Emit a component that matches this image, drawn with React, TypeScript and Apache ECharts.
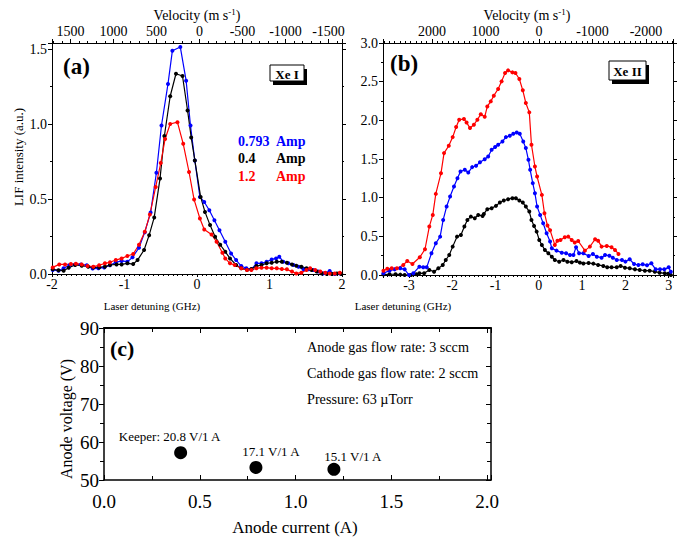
import React, { useEffect, useRef } from "react";
import * as echarts from "echarts";

// ---------- Panel (a): Xe I LIF profiles (detuning GHz, intensity a.u.) ----------
const xeI_0793A: [number, number][] = [
  [-1.99, 0.027], [-1.91, 0.022], [-1.84, 0.038], [-1.76, 0.058], [-1.68, 0.064], [-1.6, 0.064],
  [-1.52, 0.058], [-1.44, 0.036], [-1.36, 0.038], [-1.28, 0.044], [-1.2, 0.058], [-1.12, 0.078],
  [-1.04, 0.087], [-0.96, 0.082], [-0.89, 0.111], [-0.8, 0.175], [-0.72, 0.279], [-0.64, 0.41],
  [-0.56, 0.675], [-0.49, 0.99], [-0.4, 1.267], [-0.34, 1.488], [-0.23, 1.513], [-0.15, 1.289],
  [-0.09, 0.99], [-0.03, 0.757], [0.04, 0.514], [0.1, 0.48], [0.17, 0.425], [0.24, 0.359],
  [0.31, 0.292], [0.39, 0.215], [0.47, 0.137], [0.54, 0.093], [0.61, 0.053], [0.68, 0.038],
  [0.75, 0.031], [0.82, 0.071], [0.89, 0.071], [0.96, 0.082], [1.03, 0.097], [1.09, 0.104],
  [1.135, 0.115], [1.19, 0.082], [1.26, 0.071], [1.33, 0.06], [1.4, 0.049], [1.47, 0.031],
  [1.54, 0.031], [1.6, 0.027], [1.67, 0.016], [1.74, 0.004], [1.83, 0.02], [1.9, 0.0], [1.97, 0.004],
];
const xeI_04A: [number, number][] = [
  [-1.99, 0.031], [-1.91, 0.025], [-1.84, 0.022], [-1.77, 0.042], [-1.68, 0.06], [-1.59, 0.055],
  [-1.5, 0.049], [-1.43, 0.044], [-1.35, 0.044], [-1.27, 0.049], [-1.2, 0.06], [-1.11, 0.064],
  [-1.04, 0.064], [-0.96, 0.071], [-0.88, 0.066], [-0.82, 0.093], [-0.73, 0.16], [-0.66, 0.259],
  [-0.59, 0.377], [-0.51, 0.636], [-0.45, 0.92], [-0.37, 1.185], [-0.29, 1.335], [-0.2, 1.32],
  [-0.13, 1.09], [-0.08, 0.91], [-0.03, 0.757], [0.05, 0.514], [0.11, 0.414], [0.18, 0.326],
  [0.25, 0.248], [0.32, 0.195], [0.39, 0.149], [0.455, 0.104], [0.54, 0.06], [0.61, 0.038],
  [0.69, 0.027], [0.75, 0.033], [0.82, 0.053], [0.89, 0.06], [0.96, 0.071], [1.03, 0.075],
  [1.1, 0.082], [1.17, 0.082], [1.24, 0.075], [1.31, 0.064], [1.37, 0.055], [1.44, 0.049],
  [1.51, 0.038], [1.58, 0.027], [1.65, 0.016], [1.72, 0.004], [1.79, 0.0], [1.86, 0.0],
  [1.93, 0.004], [1.99, 0.0],
];
const xeI_12A: [number, number][] = [
  [-1.99, 0.044], [-1.9, 0.064], [-1.82, 0.064], [-1.74, 0.066], [-1.67, 0.069], [-1.59, 0.064],
  [-1.51, 0.053], [-1.43, 0.049], [-1.35, 0.058], [-1.27, 0.071], [-1.2, 0.078], [-1.12, 0.093],
  [-1.04, 0.104], [-0.96, 0.12], [-0.88, 0.133], [-0.8, 0.195], [-0.72, 0.281], [-0.65, 0.396],
  [-0.57, 0.58], [-0.5, 0.74], [-0.44, 0.9], [-0.37, 1.0], [-0.27, 1.012], [-0.19, 0.868],
  [-0.11, 0.68], [-0.04, 0.496], [0.04, 0.37], [0.1, 0.297], [0.2, 0.264], [0.27, 0.215],
  [0.35, 0.142], [0.39, 0.104], [0.455, 0.071], [0.52, 0.06], [0.61, 0.038], [0.69, 0.027],
  [0.75, 0.027], [0.82, 0.038], [0.89, 0.042], [0.96, 0.042], [1.03, 0.038], [1.1, 0.038],
  [1.17, 0.033], [1.24, 0.031], [1.31, 0.016], [1.37, 0.004], [1.44, 0.009], [1.51, 0.027],
  [1.56, 0.038], [1.63, 0.027], [1.7, 0.016], [1.77, 0.009], [1.83, 0.004], [1.9, 0.004], [1.97, 0.009],
];

// ---------- Panel (b): Xe II LIF profiles ----------
const xeII_12A: [number, number][] = [
  [-3.59, 0.056], [-3.5, 0.08], [-3.4, 0.086], [-3.28, 0.086], [-3.13, 0.13], [-3.04, 0.181],
  [-2.92, 0.142], [-2.75, 0.229], [-2.63, 0.333], [-2.53, 0.626], [-2.45, 0.777], [-2.38, 1.049],
  [-2.26, 1.317], [-2.19, 1.576], [-2.08, 1.671], [-1.99, 1.783], [-1.91, 1.913], [-1.84, 2.008],
  [-1.73, 2.016], [-1.67, 1.973], [-1.59, 1.9], [-1.5, 1.943], [-1.42, 2.008], [-1.34, 2.08],
  [-1.25, 2.045], [-1.19, 2.18], [-1.11, 2.245], [-1.04, 2.319], [-0.94, 2.405], [-0.86, 2.504],
  [-0.78, 2.612], [-0.71, 2.646], [-0.61, 2.62], [-0.54, 2.612], [-0.45, 2.535], [-0.37, 2.388],
  [-0.3, 2.224], [-0.22, 2.103], [-0.17, 1.684], [-0.09, 1.403], [-0.04, 1.273], [0.07, 1.036],
  [0.13, 0.799], [0.2, 0.639], [0.26, 0.58], [0.37, 0.389], [0.43, 0.444], [0.5, 0.453],
  [0.6, 0.488], [0.68, 0.496], [0.76, 0.453], [0.83, 0.419], [0.91, 0.44], [1.065, 0.315],
  [1.18, 0.367], [1.3, 0.462], [1.37, 0.444], [1.45, 0.367], [1.57, 0.376], [1.68, 0.36],
  [1.76, 0.324], [1.84, 0.272],
];
const xeII_0793A: [number, number][] = [
  [-3.59, 0.022], [-3.45, 0.056], [-3.33, 0.073], [-3.2, 0.086], [-3.1, 0.073], [-3.0, 0.0],
  [-2.9, 0.022], [-2.76, 0.108], [-2.67, 0.099], [-2.59, 0.099], [-2.48, 0.281], [-2.38, 0.41],
  [-2.28, 0.496], [-2.21, 0.712], [-2.13, 0.885], [-2.05, 1.014], [-1.96, 1.144], [-1.88, 1.252],
  [-1.81, 1.338], [-1.71, 1.36], [-1.63, 1.325], [-1.54, 1.395], [-1.45, 1.412], [-1.36, 1.457],
  [-1.25, 1.498], [-1.17, 1.533], [-1.09, 1.619], [-1.01, 1.654], [-0.94, 1.684], [-0.84, 1.727],
  [-0.76, 1.783], [-0.67, 1.8], [-0.59, 1.826], [-0.51, 1.843], [-0.44, 1.826], [-0.36, 1.727],
  [-0.3, 1.641], [-0.24, 1.49], [-0.2, 1.36], [-0.14, 1.188], [-0.09, 1.058], [-0.04, 0.885],
  [0.03, 0.777], [0.1, 0.67], [0.18, 0.54], [0.26, 0.432], [0.3, 0.346], [0.41, 0.315],
  [0.53, 0.289], [0.63, 0.281], [0.72, 0.259], [0.8, 0.259], [0.86, 0.36], [0.93, 0.28],
  [1.03, 0.28], [1.15, 0.246], [1.25, 0.272], [1.34, 0.237], [1.45, 0.224], [1.53, 0.259],
  [1.63, 0.25], [1.71, 0.224], [1.8, 0.194], [1.92, 0.194], [2.0, 0.173], [2.1, 0.203],
  [2.2, 0.142], [2.3, 0.129], [2.4, 0.138], [2.5, 0.125], [2.6, 0.151], [2.7, 0.073],
  [2.8, 0.073], [2.9, 0.073], [3.0, 0.099], [3.05, 0.043],
];
const xeII_04A: [number, number][] = [
  [-3.59, 0.005], [-3.45, 0.01], [-3.31, 0.01], [-3.2, 0.005], [-3.1, 0.0], [-2.95, 0.0],
  [-2.83, 0.01], [-2.76, 0.022], [-2.65, 0.022], [-2.53, 0.065], [-2.42, 0.043], [-2.32, 0.086],
  [-2.22, 0.13], [-2.15, 0.194], [-2.07, 0.259], [-1.99, 0.367], [-1.89, 0.496], [-1.8, 0.518],
  [-1.72, 0.626], [-1.65, 0.712], [-1.57, 0.755], [-1.48, 0.734], [-1.4, 0.777], [-1.3, 0.764],
  [-1.27, 0.79], [-1.19, 0.851], [-1.09, 0.864], [-0.99, 0.894], [-0.9, 0.937], [-0.81, 0.963],
  [-0.71, 0.98], [-0.61, 0.993], [-0.53, 0.993], [-0.45, 0.963], [-0.37, 0.937], [-0.3, 0.885],
  [-0.22, 0.82], [-0.17, 0.712], [-0.11, 0.635], [-0.05, 0.561], [0.01, 0.453], [0.07, 0.389],
  [0.14, 0.324], [0.22, 0.281], [0.3, 0.237], [0.37, 0.194], [0.47, 0.172], [0.57, 0.194],
  [0.66, 0.172], [0.76, 0.164], [0.87, 0.18], [0.95, 0.16], [1.03, 0.15], [1.15, 0.155],
  [1.26, 0.147], [1.37, 0.13], [1.49, 0.117], [1.58, 0.099], [1.68, 0.099], [1.8, 0.099],
  [1.89, 0.117], [1.99, 0.095], [2.1, 0.086], [2.22, 0.073], [2.33, 0.065], [2.45, 0.056],
  [2.56, 0.056], [2.68, 0.043], [2.79, 0.03], [2.91, 0.022], [2.99, 0.017], [3.05, 0.0],
];

// ---------- Panel (c): operating points ----------
const anodeCurrent = [0.4, 0.793, 1.2];
const anodeVoltage = [57.2, 53.3, 52.8];
const keeperLabels = ["Keeper: 20.8 V/1 A", "17.1 V/1 A", "15.1 V/1 A"];
const legendCurrents = ["0.793", "0.4", "1.2"];
const conditionTexts = [
  "Anode gas flow rate: 3 sccm",
  "Cathode gas flow rate: 2 sccm",
  "Pressure: 63 \u00B5Torr",
];

const FONT = "Liberation Serif";
const BLUE = "#0000ff";
const RED = "#ff0000";
const BLACK = "#000000";
const labelOffsets = [[-11, -16], [15, -16], [19, -13]];

type AxOpt = {
  grid: number;
  pos: "top" | "bottom" | "left" | "right";
  min: number;
  max: number;
  interval?: number;
  inverse?: boolean;
  labels: boolean;
  fmt?: (v: number) => string;
  fontSize?: number;
  margin?: number;
  tickInside?: boolean;
  tickLen?: number;
  minorLen?: number;
  minorSplit: number;
  showMin?: boolean;
  showMax?: boolean;
  lineWidth?: number;
};

function ax(o: AxOpt) {
  const a: any = {
    type: "value",
    gridIndex: o.grid,
    position: o.pos,
    min: o.min,
    max: o.max,
    inverse: !!o.inverse,
    splitLine: { show: false },
    minorSplitLine: { show: false },
    axisLine: { show: true, onZero: false, lineStyle: { color: BLACK, width: o.lineWidth ?? 1 } },
    axisTick: {
      show: true,
      inside: !!o.tickInside,
      length: o.tickLen ?? 4,
      lineStyle: { color: BLACK, width: 1 },
    },
    minorTick: {
      show: true,
      splitNumber: o.minorSplit,
      length: o.minorLen ?? 2,
      lineStyle: { color: BLACK, width: 1 },
    },
    axisLabel: {
      show: o.labels,
      color: BLACK,
      fontFamily: FONT,
      fontSize: o.fontSize ?? 14,
      margin: o.margin ?? 4,
      showMinLabel: o.showMin ?? true,
      showMaxLabel: o.showMax ?? true,
      hideOverlap: false,
      formatter: o.fmt ?? ((v: number) => String(v)),
    },
  };
  if (o.interval !== undefined) a.interval = o.interval;
  return a;
}

function lineSeries(name: string, data: [number, number][], color: string, xi: number, yi: number) {
  return {
    name,
    type: "line",
    xAxisIndex: xi,
    yAxisIndex: yi,
    data,
    symbol: "circle",
    symbolSize: 4,
    showSymbol: true,
    showAllSymbol: true,
    itemStyle: { color, opacity: 1 },
    lineStyle: { color, width: 1.2 },
    emphasis: { disabled: true },
  };
}

function boxLabel(x: number, y: number, w: number, h: number, text: string) {
  return [
    { type: "rect", shape: { x: x + 3, y: y + 4, width: w, height: h }, style: { fill: BLACK } },
    { type: "rect", shape: { x, y, width: w, height: h }, style: { fill: "#fff", stroke: BLACK, lineWidth: 1 } },
    {
      type: "text",
      x: x + w / 2,
      y: y + h / 2 + 1,
      style: { text, fontFamily: FONT, fontSize: 13, fontWeight: "bold", fill: BLACK, align: "center", verticalAlign: "middle" },
    },
  ];
}

function txt(x: number, y: number, text: string, size: number, extra: any = {}, rot = 0) {
  return {
    type: "text",
    x,
    y,
    rotation: rot,
    style: {
      text,
      fontFamily: FONT,
      fontSize: size,
      fill: BLACK,
      align: "left",
      verticalAlign: "middle",
      ...extra,
    },
  };
}

const velRich = {
  m: { fontFamily: FONT, fontSize: 14, fill: BLACK, lineHeight: 16 },
  s: { fontFamily: FONT, fontSize: 9, fill: BLACK, verticalAlign: "top", lineHeight: 16, padding: [0, 0, 6, 0] },
};

export default function App() {
  const ref = useRef<HTMLDivElement>(null);
  useEffect(() => {
    document.body.style.margin = "0";
    if (!ref.current) return;
    const chart = echarts.init(ref.current, null, { renderer: "svg" });
    const fmt1 = (v: number) => v.toFixed(1);
    const legendColors = [BLUE, BLACK, RED];
    const legendY = [141, 158, 176];

    const option: any = {
      animation: false,
      backgroundColor: "#fff",
      textStyle: { fontFamily: FONT },
      grid: [
        { left: 52, top: 43, width: 290, height: 231, containLabel: false, outerBoundsMode: "none" },
        { left: 383, top: 43, width: 290, height: 232, containLabel: false, outerBoundsMode: "none" },
        { left: 104, top: 328, width: 387, height: 152, containLabel: false, outerBoundsMode: "none" },
      ],
      xAxis: [
        ax({ grid: 0, pos: "bottom", min: -2, max: 2, interval: 1, labels: true, minorSplit: 15, margin: 3, tickLen: 3 }),
        ax({ grid: 0, pos: "top", min: -1657, max: 1715, inverse: true, labels: true, minorSplit: 5, margin: 5, showMin: false, showMax: false }),
        ax({ grid: 1, pos: "bottom", min: -3.6, max: 3.1, labels: true, minorSplit: 10, margin: 3, tickLen: 3, showMin: false, showMax: false }),
        ax({ grid: 1, pos: "top", min: -2505, max: 2916, inverse: true, labels: true, minorSplit: 10, margin: 5, showMin: false, showMax: false }),
        ax({ grid: 2, pos: "bottom", min: 0, max: 2.02, interval: 0.5, labels: true, fmt: fmt1, fontSize: 19, margin: 12, tickInside: true, tickLen: 5, minorLen: 4, minorSplit: 2, showMax: false, lineWidth: 1.5 }),
        ax({ grid: 2, pos: "top", min: 0, max: 2.02, interval: 0.5, labels: false, tickInside: true, tickLen: 5, minorLen: 4, minorSplit: 2, lineWidth: 2 }),
      ],
      yAxis: [
        ax({ grid: 0, pos: "left", min: 0, max: 1.54, interval: 0.5, labels: true, fmt: fmt1, minorSplit: 2, margin: 5, showMax: false }),
        ax({ grid: 0, pos: "right", min: 0, max: 1.54, interval: 0.5, labels: false, minorSplit: 2 }),
        ax({ grid: 1, pos: "left", min: 0, max: 3, interval: 0.5, labels: true, fmt: fmt1, minorSplit: 2, margin: 5 }),
        ax({ grid: 1, pos: "right", min: 0, max: 3, interval: 0.5, labels: false, minorSplit: 2 }),
        ax({ grid: 2, pos: "left", min: 50, max: 90, interval: 10, labels: true, fontSize: 19, margin: 5, tickLen: 5, minorLen: 4, minorSplit: 2, lineWidth: 1.5 }),
        ax({ grid: 2, pos: "right", min: 50, max: 90, interval: 10, labels: false, tickInside: true, tickLen: 5, minorLen: 4, minorSplit: 2, lineWidth: 1.5 }),
      ],
      series: [
        lineSeries("0.793 A", xeI_0793A, BLUE, 0, 0),
        lineSeries("0.4 A", xeI_04A, BLACK, 0, 0),
        lineSeries("1.2 A", xeI_12A, RED, 0, 0),
        lineSeries("0.4 A", xeII_04A, BLACK, 2, 2),
        lineSeries("0.793 A", xeII_0793A, BLUE, 2, 2),
        lineSeries("1.2 A", xeII_12A, RED, 2, 2),
        {
          type: "scatter",
          xAxisIndex: 4,
          yAxisIndex: 4,
          symbol: "circle",
          symbolSize: 13,
          itemStyle: { color: BLACK, opacity: 1 },
          emphasis: { disabled: true },
          data: anodeCurrent.map((x, i) => ({
            value: [x, anodeVoltage[i]],
            label: {
              show: true,
              position: "inside",
              offset: labelOffsets[i],
              formatter: keeperLabels[i],
              fontFamily: FONT,
              fontSize: 13,
              color: BLACK,
            },
          })),
        },
      ],
      graphic: [
        txt(63, 66, "(a)", 23, { fontWeight: "bold" }),
        txt(390, 63, "(b)", 23, { fontWeight: "bold" }),
        txt(110, 348, "(c)", 22, { fontWeight: "bold" }),
        ...boxLabel(270, 65, 34, 16, "Xe I"),
        ...boxLabel(609, 61, 37, 19, "Xe II"),
        ...legendCurrents.map((c, i) => txt(238, legendY[i], c, 14, { fontWeight: "bold", fill: legendColors[i] })),
        ...legendCurrents.map((_, i) => txt(276, legendY[i], "Amp", 14, { fontWeight: "bold", fill: legendColors[i] })),
        txt(197, 15, "{m|Velocity (m s}{s|-1}{m|)}", 14, { align: "center", rich: velRich }),
        txt(527, 15, "{m|Velocity (m s}{s|-1}{m|)}", 14, { align: "center", rich: velRich }),
        txt(152, 306, "Laser detuning (GHz)", 11, { align: "center" }),
        txt(403, 306, "Laser detuning (GHz)", 11, { align: "center" }),
        txt(18, 157, "LIF intensity (a.u.)", 13, { align: "center" }, Math.PI / 2),
        txt(66, 419, "Anode voltage (V)", 16, { align: "center" }, Math.PI / 2),
        txt(295, 527, "Anode current (A)", 17, { align: "center" }),
        ...conditionTexts.map((t, i) => txt(307, [347, 373, 399][i], t, 14.2)),
      ],
    };
    chart.setOption(option);
    return () => chart.dispose();
  }, []);
  return <div ref={ref} style={{ width: 683, height: 537, background: "#fff" }} />;
}
